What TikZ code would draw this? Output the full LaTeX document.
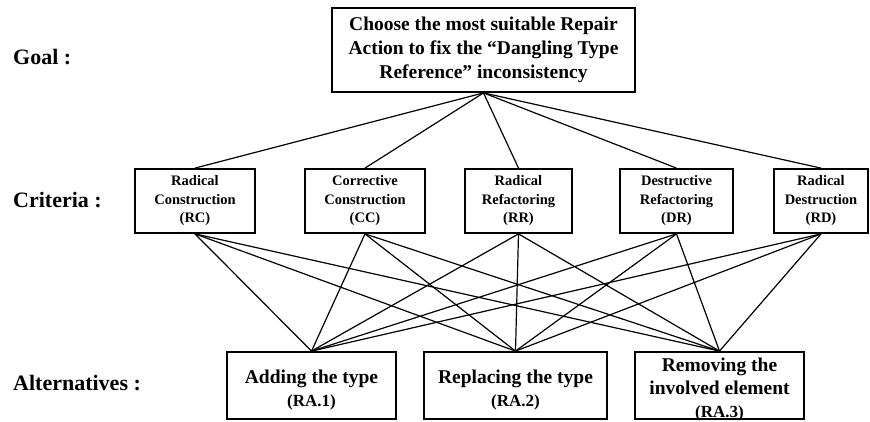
\documentclass[tikz,border=0pt]{standalone}
\usepackage{fontspec}
\setmainfont{Liberation Serif}
\begin{document}
\begin{tikzpicture}[x=1pt,y=-1pt,
  box/.style={draw, line width=1.8pt, inner sep=0pt, align=center},
  goalfont/.style={font=\bfseries\fontsize{19.5}{24}\selectfont},
  critfont/.style={font=\bfseries\fontsize{14.5}{18.5}\selectfont},
  crit/.style={box, critfont, minimum height=64pt},
  alt/.style={box, minimum height=67pt},
  alttext/.style={inner sep=0pt, align=center, font=\bfseries\fontsize{19.5}{23}\selectfont},
  lbl/.style={font=\bfseries\fontsize{22}{24}\selectfont, anchor=west, inner sep=0pt},
  conn/.style={line width=1.2pt}]
\useasboundingbox (0,0) rectangle (870,421);

% labels
\node[lbl] (goallbl) at (13,57) {Goal :};
\node[lbl] (critlbl) at (13,200) {Criteria :};
\node[lbl] (altlbl) at (13,383) {Alternatives :};

% goal
\node[box, goalfont, minimum width=303pt, minimum height=84pt] (goal) at (483.5,50)
  {Choose the most suitable Repair\\Action to fix the “Dangling Type\\Reference” inconsistency};

% criteria
\node[crit, minimum width=120pt] (rc) at (195,201) {Radical\\Construction\\(RC)};
\node[crit, minimum width=120pt] (cc) at (365,201) {Corrective\\Construction\\(CC)};
\node[crit, minimum width=107pt] (rr) at (518.5,201) {Radical\\Refactoring\\(RR)};
\node[crit, minimum width=113pt] (dr) at (676.5,201) {Destructive\\Refactoring\\(DR)};
\node[crit, minimum width=94pt] (rd) at (821,201) {Radical\\Destruction\\(RD)};

% alternatives
\node[alt, minimum width=169pt] (ra1) at (311.5,385.5) {};
\node[alt, minimum width=183pt] (ra2) at (515.5,385.5) {};
\node[alt, minimum width=169pt] (ra3) at (719.5,385.5) {};
\node[alttext] (ra1t) at (311.5,390)
  {Adding the type\\{\fontsize{17}{21}\selectfont (RA.1)}};
\node[alttext] (ra2t) at (515.5,390)
  {Replacing the type\\{\fontsize{17}{21}\selectfont (RA.2)}};
\node[alttext] (ra3t) at (719.5,390)
  {Removing the\\involved element\\{\fontsize{17}{21}\selectfont (RA.3)}};

% connectors
\foreach \c in {rc,cc,rr,dr,rd}{
  \draw[conn] (goal.south) -- (\c.north);
  \foreach \a in {ra1,ra2,ra3}{
    \draw[conn] (\c.south) -- (\a.north);
  }
}
\end{tikzpicture}
\end{document}
